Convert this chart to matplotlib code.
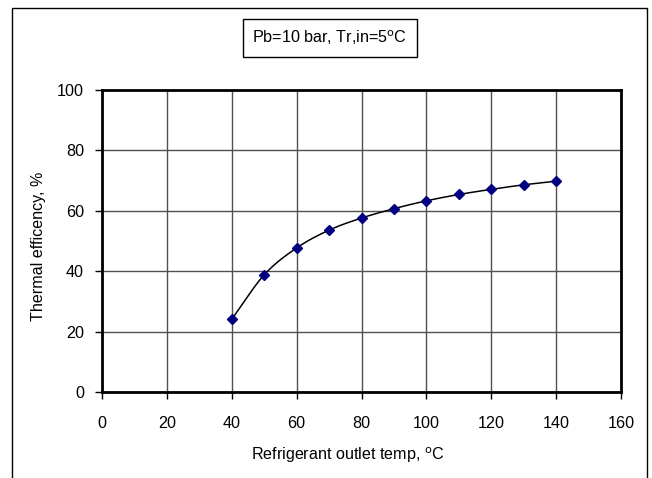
import matplotlib
matplotlib.use('Agg')
import matplotlib.pyplot as plt
import matplotlib.patches as patches
import numpy as np

# ------------------------------------------------------------------------- DATA
temp = [40, 50, 60, 70, 80, 90, 100, 110, 120, 130, 140]
eff = [24.1, 38.8, 47.7, 53.6, 57.6, 60.7, 63.3, 65.4, 67.1, 68.6, 69.8]
xticks = [0, 20, 40, 60, 80, 100, 120, 140, 160]
yticks = [0, 20, 40, 60, 80, 100]

plt.rcParams['font.family'] = ['Liberation Sans', 'DejaVu Sans']
FS = 11.6


def smooth(x, y, n=20):
	# catmull-rom through the points, like the excel smoothed line
	x = np.asarray(x, float)
	y = np.asarray(y, float)
	px = np.concatenate([[2*x[0]-x[1]], x, [2*x[-1]-x[-2]]])
	py = np.concatenate([[2*y[0]-y[1]], y, [2*y[-1]-y[-2]]])
	xs, ys = [], []
	t = np.linspace(0, 1, n)
	for i in range(1, len(px)-2):
		for p, out in ((px, xs), (py, ys)):
			p0, p1, p2, p3 = p[i-1], p[i], p[i+1], p[i+2]
			out.extend(0.5*((2*p1) + (-p0+p2)*t + (2*p0-5*p1+4*p2-p3)*t**2
				+ (-p0+3*p1-3*p2+p3)*t**3))
	return xs, ys


fig = plt.figure(figsize=(6.52, 4.78), dpi=100)
ax = fig.add_axes([102/652, 1-392/478, (621-102)/652, (392-90)/478])

sx, sy = smooth(temp, eff)
ax.plot(sx, sy, color='black', lw=1.1, zorder=3)
ax.plot(temp, eff, ls='none', marker='D', ms=5, color='#000080', zorder=4)

ax.set_xlim(0, 160)
ax.set_ylim(0, 100)
ax.set_xticks(xticks)
ax.set_yticks(yticks)
ax.grid(True, color='#505050', lw=1)
ax.set_axisbelow(True)
for s in ax.spines.values():
	s.set_linewidth(2)
ax.tick_params(direction='out', length=5, width=1, labelsize=FS)
ax.tick_params(axis='x', pad=12)
ax.tick_params(axis='y', pad=8)

ax.set_xlabel('Refrigerant outlet temp, $^{\\mathrm{o}}$C', fontsize=FS)
ax.set_ylabel('Thermal efficency, %', fontsize=FS)
ax.xaxis.set_label_coords((348-102)/519, -(455-392)/302)
ax.yaxis.set_label_coords(-(102-38)/519, (392-246)/302)
ax.xaxis.label.set_va('center')
ax.yaxis.label.set_va('center')

fig.text(330/652, 1-38/478, 'Pb=10 bar, Tr,in=5$^{\\mathrm{o}}$C', fontsize=FS,
	ha='center', va='center',
	bbox=dict(boxstyle='square,pad=0.6', fc='white', ec='black', lw=1))

# ----------------------------------------------------------------- outer frame
fig.patches.append(patches.Rectangle((12/652, -0.1), (647-12)/652, 1.1-8/478,
	transform=fig.transFigure, fill=False, ec='black', lw=1))

fig.savefig('out.png', dpi=100)
